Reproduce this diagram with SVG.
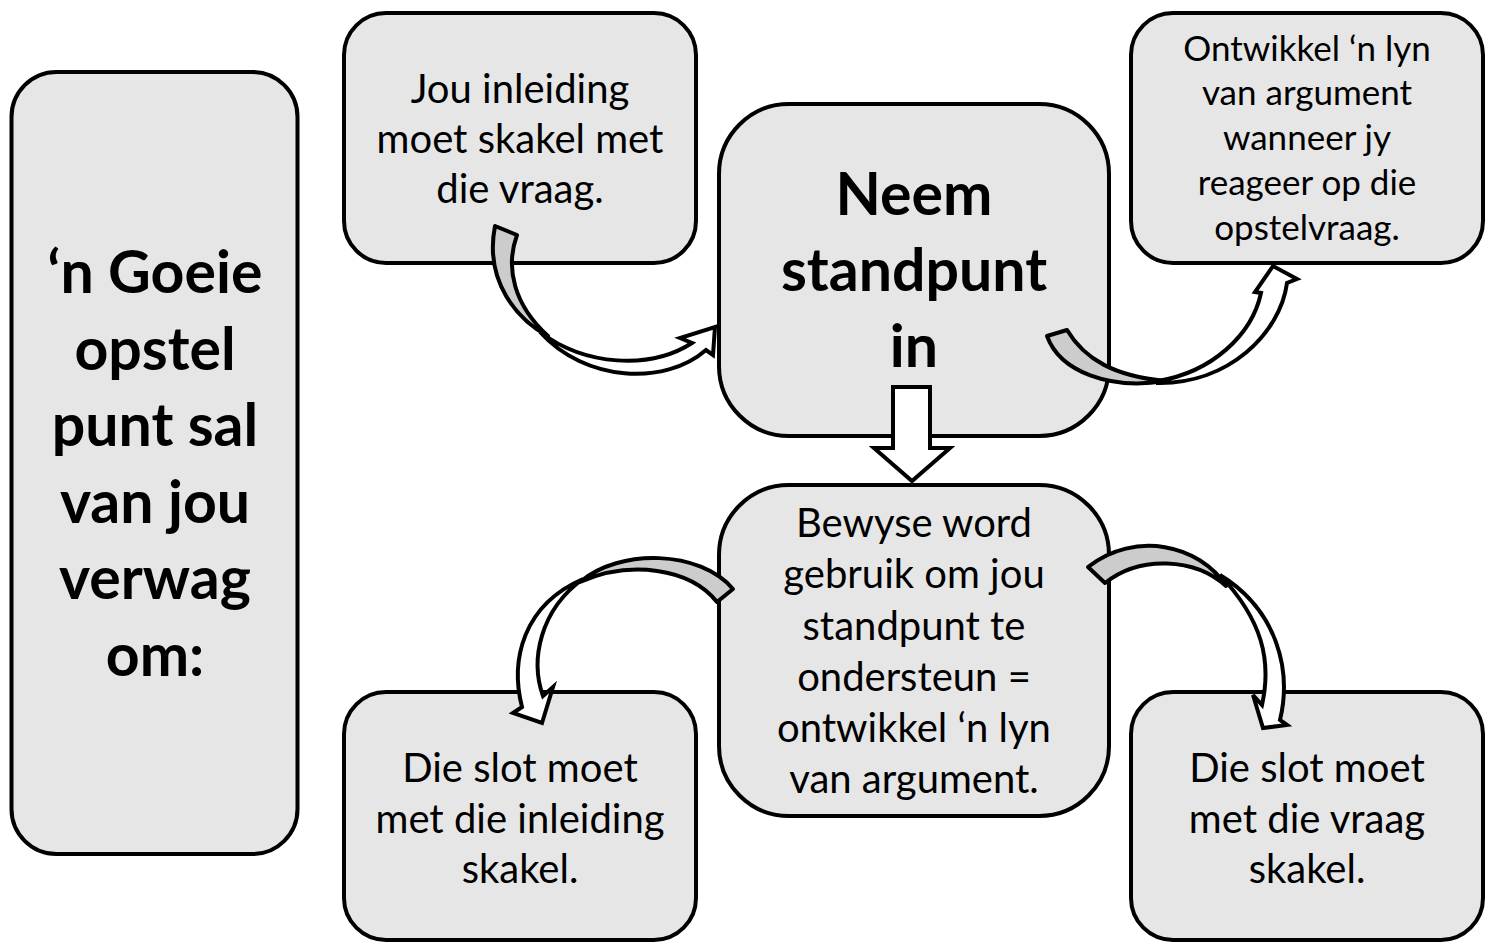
<svg xmlns="http://www.w3.org/2000/svg" width="1501" height="945" viewBox="0 0 1501 945">
<style>
.box{fill:#e6e6e6;stroke:#000;stroke-width:4}
.t{font-family:Lato,"Liberation Sans",sans-serif;font-size:40px;fill:#000;text-anchor:middle}
.s{font-size:35px}
.b{font-family:Lato,"Liberation Sans",sans-serif;font-weight:bold;font-size:59px;fill:#000;text-anchor:middle}
.gr{fill:#cccccc;stroke:#000;stroke-width:4;stroke-linejoin:round}
.wh{fill:#fff;stroke:#000;stroke-width:4;stroke-linejoin:miter}
</style>
<rect width="1501" height="945" fill="#fff"/>
<g id="node-left">
<rect class="box" x="11.5" y="72" width="286" height="782" rx="45"/>
<text class="b" x="155" y="293">‘n Goeie</text>
<text class="b" x="155" y="370">opstel</text>
<text class="b" x="155" y="446">punt sal</text>
<text class="b" x="155" y="523">van jou</text>
<text class="b" x="155" y="599">verwag</text>
<text class="b" x="155" y="676">om:</text>
</g>
<g id="node-inleiding">
<rect class="box" x="344" y="13" width="352" height="250" rx="42"/>
<text class="t" x="520" y="103">Jou inleiding</text>
<text class="t" x="520" y="153">moet skakel met</text>
<text class="t" x="520" y="203">die vraag.</text>
</g>
<g id="node-standpunt">
<rect class="box" x="719" y="104" width="390" height="332" rx="70"/>
<text class="b" x="914" y="215">Neem</text>
<text class="b" x="914" y="291">standpunt</text>
<text class="b" x="914" y="367">in</text>
</g>
<g id="node-lyn">
<rect class="box" x="1131" y="13" width="352" height="250" rx="42"/>
<text class="t s" x="1307" y="61">Ontwikkel ‘n lyn</text>
<text class="t s" x="1307" y="105">van argument</text>
<text class="t s" x="1307" y="150">wanneer jy</text>
<text class="t s" x="1307" y="195">reageer op die</text>
<text class="t s" x="1307" y="240">opstelvraag.</text>
</g>
<g id="node-bewyse">
<rect class="box" x="719" y="485" width="390" height="331" rx="70"/>
<text class="t" x="914" y="537">Bewyse word</text>
<text class="t" x="914" y="588">gebruik om jou</text>
<text class="t" x="914" y="640">standpunt te</text>
<text class="t" x="914" y="691">ondersteun =</text>
<text class="t" x="914" y="742">ontwikkel ‘n lyn</text>
<text class="t" x="914" y="793">van argument.</text>
</g>
<g id="node-slot1">
<rect class="box" x="344" y="692" width="352" height="248" rx="42"/>
<text class="t" x="520" y="782">Die slot moet</text>
<text class="t" x="520" y="833">met die inleiding</text>
<text class="t" x="520" y="883">skakel.</text>
</g>
<g id="node-slot2">
<rect class="box" x="1131" y="692" width="352" height="248" rx="42"/>
<text class="t" x="1307" y="782">Die slot moet</text>
<text class="t" x="1307" y="833">met die vraag</text>
<text class="t" x="1307" y="883">skakel.</text>
</g>
<g id="connectors">
<path class="gr" d="M495,226 L517,235 C505,268 514,305 548,336 C518,320 484,282 495,226 Z"/>
<path class="wh" d="M540,332 C585,366 650,370 692,343 L680,338 L715,327 L713,355 L706,350 C665,386 585,382 540,332 Z"/>
<path class="gr" d="M1047,336 L1067,330 C1085,360 1115,376 1165,381 C1110,390 1060,372 1047,336 Z"/>
<path class="wh" d="M1158,381 C1212,372 1252,335 1261,293 L1255,292 L1273,266 L1297,279 L1287,283 C1280,334 1228,384 1158,383 Z"/>
<path class="gr" d="M733,589 L717,602 C690,568 630,560 580,582 C620,548 700,550 733,589 Z"/>
<path class="wh" d="M583,579 C540,610 530,660 543,696 L553,687 L542,723 L513,713 L522,707 C510,660 523,605 583,579 Z"/>
<path class="gr" d="M1088,567 L1105,583 C1140,555 1195,558 1226,586 C1200,545 1135,530 1088,567 Z"/>
<path class="wh" d="M1220,575 C1277,610 1292,670 1280,720 L1287,725 L1263,728 L1253,695 L1262,705 C1272,660 1262,620 1220,575 Z"/>
<path class="wh" d="M893,387 L930,387 L930,448 L950,448 L912,481 L874,448 L893,448 Z"/>
</g>
</svg>
